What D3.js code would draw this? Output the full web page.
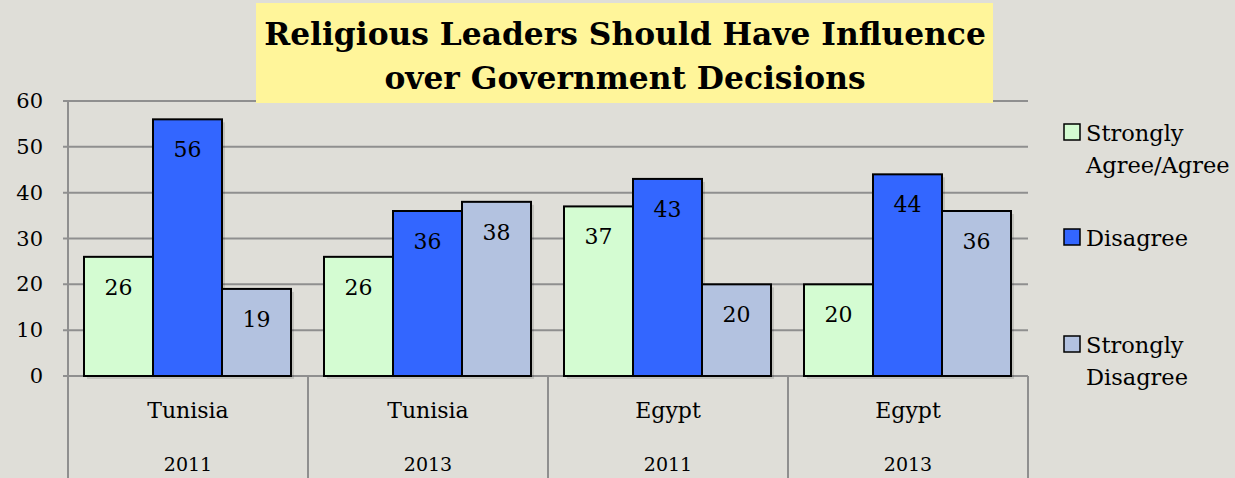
<!DOCTYPE html>
<html><head><meta charset="utf-8">
<script src="https://cdn.jsdelivr.net/npm/d3@7"></script>
<style>
html,body{margin:0;padding:0;background:#DFDED8;}
svg{display:block;}
</style></head>
<body>
<svg id="c" width="1235" height="478"></svg>
<script>
const countries = ["Tunisia","Tunisia","Egypt","Egypt"];
const years = ["2011","2013","2011","2013"];
const seriesNames = ["Strongly Agree/Agree","Disagree","Strongly Disagree"];
const agree = [26,26,37,20];
const disagree = [56,36,43,44];
const strongDisagree = [19,38,20,36];
const yTicks = [0,10,20,30,40,50,60];
const titleLines = ["Religious Leaders Should Have Influence","over Government Decisions"];
const legendLines = [["Strongly","Agree/Agree"],["Disagree"],["Strongly","Disagree"]];

(function(){
const FONT = "'DejaVu Serif', serif";
const colors = ["#D4FCD2","#3366FF","#B3C2E0"];
const svg = d3.select("#c").attr("font-family",FONT);
const pL = 68, pR = 1028, pT = 101, pB = 376;

const groups = d3.range(countries.length);
const x0 = d3.scaleBand().domain(groups).range([pL,pR]).paddingInner(0).paddingOuter(0);
const x1 = d3.scaleBand().domain([0,1,2]).range([16, x0.bandwidth()-17]).padding(0);
const y = d3.scaleLinear().domain([0,60]).range([pB,pT]);

svg.append("g").selectAll("line").data(yTicks).join("line")
  .attr("x1",pL-5).attr("x2",pR).attr("y1",d=>y(d)).attr("y2",d=>y(d))
  .attr("stroke","#8f8f8f").attr("stroke-width",2);
svg.append("line").attr("x1",pL).attr("x2",pL).attr("y1",pT).attr("y2",478)
  .attr("stroke","#8f8f8f").attr("stroke-width",2);
svg.append("g").selectAll("text").data(yTicks).join("text")
  .attr("x",43).attr("y",d=>y(d)+7).attr("text-anchor","end")
  .attr("font-size",21).text(d=>d);

svg.append("g").selectAll("line").data(d3.range(countries.length+1)).join("line")
  .attr("x1",d=>pL+d*x0.bandwidth()).attr("x2",d=>pL+d*x0.bandwidth())
  .attr("y1",pB).attr("y2",478).attr("stroke","#8f8f8f").attr("stroke-width",2);

const data = groups.map(i=>[agree[i],disagree[i],strongDisagree[i]]);
const g = svg.append("g").selectAll("g").data(data).join("g")
  .attr("transform",(d,i)=>`translate(${x0(i)},0)`);
g.selectAll("rect.sh").data(d=>d).join("rect").attr("class","sh")
  .attr("x",(d,j)=>x1(j)+3).attr("y",d=>y(d)+3)
  .attr("width",x1.bandwidth()).attr("height",d=>pB-y(d))
  .attr("fill","rgba(0,0,0,0.12)");
g.selectAll("rect.b").data(d=>d).join("rect").attr("class","b")
  .attr("x",(d,j)=>x1(j)).attr("y",d=>y(d))
  .attr("width",x1.bandwidth()).attr("height",d=>pB-y(d))
  .attr("fill",(d,j)=>colors[j]).attr("stroke","#000").attr("stroke-width",2);
g.selectAll("text").data(d=>d).join("text")
  .attr("x",(d,j)=>x1(j)+x1.bandwidth()/2).attr("y",d=>y(d)+38)
  .attr("text-anchor","middle").attr("font-size",22).text(d=>d);

svg.append("g").selectAll("text").data(groups).join("text")
  .attr("x",i=>x0(i)+x0.bandwidth()/2).attr("y",418).attr("text-anchor","middle")
  .attr("font-size",22).text(i=>countries[i]);
svg.append("g").selectAll("text").data(groups).join("text")
  .attr("x",i=>x0(i)+x0.bandwidth()/2).attr("y",471).attr("text-anchor","middle")
  .attr("font-size",19).text(i=>years[i]);

svg.append("rect").attr("x",256).attr("y",3).attr("width",737).attr("height",100).attr("fill","#FFF59A");
svg.append("g").selectAll("text").data(titleLines).join("text")
  .attr("x",625).attr("y",(d,i)=>45+i*44).attr("text-anchor","middle")
  .attr("font-size",31.3).attr("font-weight","bold").text(d=>d);

const legY = [133,238,345];
const lg = svg.append("g").selectAll("g").data(seriesNames).join("g");
lg.append("rect").attr("x",1064).attr("y",(d,i)=>legY[i]-9).attr("width",16).attr("height",16)
  .attr("fill",(d,i)=>colors[i]).attr("stroke","#000").attr("stroke-width",1.5);
lg.each(function(d,i){
  d3.select(this).selectAll("text").data(legendLines[i]).join("text")
    .attr("x",1086).attr("y",(t,k)=>legY[i]+8+k*32)
    .attr("font-size",22.5).text(t=>t);
});
})();
</script>
</body></html>
